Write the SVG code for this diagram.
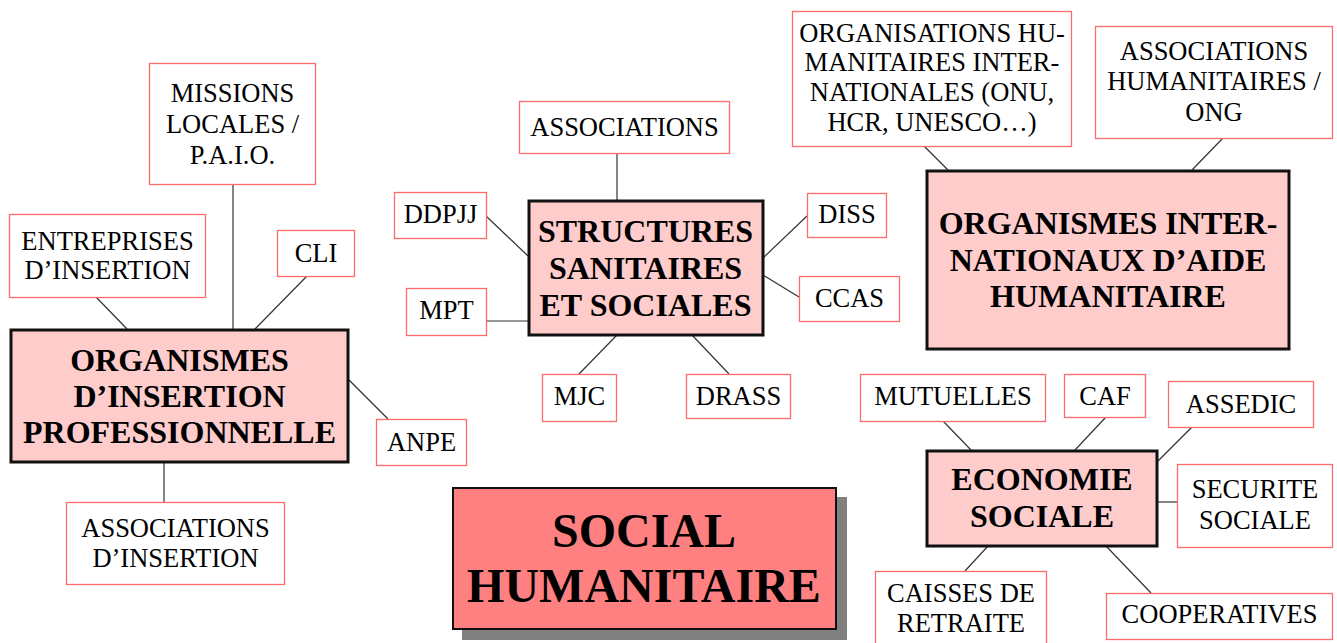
<svg xmlns="http://www.w3.org/2000/svg" width="1337" height="643" viewBox="0 0 1337 643">
<style>
text{font-family:"Liberation Serif","DejaVu Serif",serif;fill:#000;text-anchor:middle}
.leaf rect{fill:#fff;stroke:#ff6b6b;stroke-width:1.3}
.leaf text{font-size:26.5px}
.hub rect{fill:#ffcccc;stroke:#111;stroke-width:3}
.hub text{font-size:32px;font-weight:bold}
.big{font-size:48px;font-weight:bold}
#connectors line{stroke:#333;stroke-width:1.2}
</style>
<rect width="1337" height="643" fill="#fff"/>
<g id="connectors">
<line x1="96" y1="297" x2="127" y2="329"/>
<line x1="233" y1="184" x2="233" y2="329"/>
<line x1="307" y1="276" x2="255" y2="329"/>
<line x1="349" y1="380" x2="388" y2="419"/>
<line x1="164" y1="463" x2="164" y2="502" style="stroke:#666;stroke-width:1.6"/>
<line x1="617" y1="153" x2="617" y2="200"/>
<line x1="486" y1="216" x2="528" y2="256"/>
<line x1="486" y1="321" x2="528" y2="321"/>
<line x1="807" y1="216" x2="763" y2="258"/>
<line x1="763" y1="275" x2="799" y2="297"/>
<line x1="617" y1="335" x2="579" y2="374"/>
<line x1="692" y1="335" x2="729" y2="374"/>
<line x1="924" y1="146" x2="948" y2="170"/>
<line x1="1223" y1="138" x2="1192" y2="170"/>
<line x1="943" y1="421" x2="971" y2="450"/>
<line x1="1106" y1="417" x2="1075" y2="450"/>
<line x1="1192" y1="427" x2="1158" y2="461"/>
<line x1="1157" y1="502" x2="1177" y2="502"/>
<line x1="988" y1="546" x2="965" y2="571"/>
<line x1="1106" y1="546" x2="1151" y2="593"/>
</g>
<g id="n-missions" class="leaf"><rect x="149.5" y="63.5" width="166" height="121"/><text x="232.5" y="102">MISSIONS</text><text x="232.5" y="133">LOCALES /</text><text x="232.5" y="164">P.A.I.O.</text></g>
<g id="n-entreprises" class="leaf"><rect x="9.5" y="214.5" width="196" height="83"/><text x="107.5" y="250">ENTREPRISES</text><text x="107.5" y="279">D’INSERTION</text></g>
<g id="n-cli" class="leaf"><rect x="277.5" y="230.5" width="77" height="46"/><text x="316" y="262">CLI</text></g>
<g id="n-insertion" class="hub"><rect x="11" y="330" width="337" height="132"/><text x="179.5" y="371">ORGANISMES</text><text x="179.5" y="407">D’INSERTION</text><text x="179.5" y="443">PROFESSIONNELLE</text></g>
<g id="n-anpe" class="leaf"><rect x="376.5" y="419.5" width="90" height="46"/><text x="421.5" y="451">ANPE</text></g>
<g id="n-assoc-insertion" class="leaf"><rect x="66.5" y="502.5" width="218" height="82"/><text x="175.5" y="537">ASSOCIATIONS</text><text x="175.5" y="567">D’INSERTION</text></g>
<g id="n-associations" class="leaf"><rect x="519.5" y="101.5" width="210" height="52"/><text x="624.5" y="136">ASSOCIATIONS</text></g>
<g id="n-ddpjj" class="leaf"><rect x="394.5" y="192.5" width="92" height="46"/><text x="440.5" y="223">DDPJJ</text></g>
<g id="n-mpt" class="leaf"><rect x="406.5" y="288.5" width="80" height="47"/><text x="446.5" y="319">MPT</text></g>
<g id="n-structures" class="hub"><rect x="529" y="201" width="234" height="134"/><text x="645.5" y="242">STRUCTURES</text><text x="645.5" y="279">SANITAIRES</text><text x="645.5" y="316">ET SOCIALES</text></g>
<g id="n-diss" class="leaf"><rect x="807.5" y="193.5" width="79" height="44"/><text x="847" y="223">DISS</text></g>
<g id="n-ccas" class="leaf"><rect x="799.5" y="276.5" width="100" height="45"/><text x="849.5" y="307">CCAS</text></g>
<g id="n-mjc" class="leaf"><rect x="542.5" y="374.5" width="74" height="47"/><text x="579.5" y="405">MJC</text></g>
<g id="n-drass" class="leaf"><rect x="686.5" y="374.5" width="104" height="44"/><text x="738.5" y="405">DRASS</text></g>
<g id="n-onu" class="leaf"><rect x="792.5" y="11.5" width="279" height="135"/><text x="932" y="42">ORGANISATIONS HU-</text><text x="932" y="71">MANITAIRES INTER-</text><text x="932" y="101">NATIONALES (ONU,</text><text x="932" y="131">HCR, UNESCO…)</text></g>
<g id="n-ong" class="leaf"><rect x="1095.5" y="26.5" width="237" height="112"/><text x="1214" y="60">ASSOCIATIONS</text><text x="1214" y="90">HUMANITAIRES /</text><text x="1214" y="121">ONG</text></g>
<g id="n-internationaux" class="hub"><rect x="927" y="171" width="362" height="178"/><text x="1108" y="234">ORGANISMES INTER-</text><text x="1108" y="271">NATIONAUX D’AIDE</text><text x="1108" y="307">HUMANITAIRE</text></g>
<g id="n-mutuelles" class="leaf"><rect x="860.5" y="374.5" width="185" height="47"/><text x="953" y="405">MUTUELLES</text></g>
<g id="n-caf" class="leaf"><rect x="1064.5" y="374.5" width="81" height="43"/><text x="1105" y="405">CAF</text></g>
<g id="n-assedic" class="leaf"><rect x="1168.5" y="381.5" width="145" height="46"/><text x="1241" y="413">ASSEDIC</text></g>
<g id="n-economie" class="hub"><rect x="927" y="451" width="230" height="95"/><text x="1042" y="490">ECONOMIE</text><text x="1042" y="527">SOCIALE</text></g>
<g id="n-securite" class="leaf"><rect x="1177.5" y="464.5" width="155" height="83"/><text x="1255" y="498">SECURITE</text><text x="1255" y="529">SOCIALE</text></g>
<g id="n-caisses" class="leaf"><rect x="875.5" y="571.5" width="171" height="80"/><text x="961" y="602">CAISSES DE</text><text x="961" y="632">RETRAITE</text></g>
<g id="n-cooperatives" class="leaf"><rect x="1106.5" y="593.5" width="226" height="46"/><text x="1219.5" y="623">COOPERATIVES</text></g>
<g id="n-social">
<rect x="462" y="497" width="385" height="143" fill="#808080"/>
<rect x="453" y="488" width="383" height="141" fill="#ff8080" stroke="#111" stroke-width="2"/>
<text class="big" x="644" y="547">SOCIAL</text>
<text class="big" x="644" y="602">HUMANITAIRE</text>
</g>
</svg>
